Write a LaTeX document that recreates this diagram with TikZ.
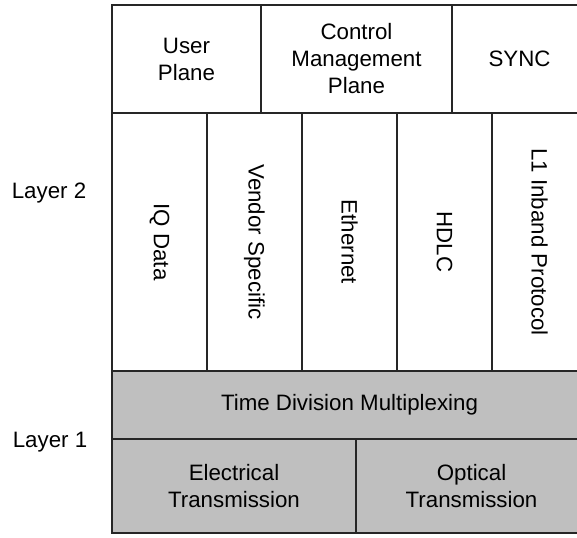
\documentclass[tikz,border=0pt]{standalone}
\usepackage{fontspec}
\setmainfont{Liberation Sans}
\usetikzlibrary{positioning}

\begin{document}
\begin{tikzpicture}[x=0.5pt,y=-0.5pt,node distance=0pt,font=\fontsize{11.15}{13.5}\selectfont,
    cell/.style={draw=black!85,line width=0.65pt,rectangle,outer sep=0pt,inner sep=0pt,align=center},
    plane/.style={cell,minimum height=54pt},
    col/.style={cell,minimum width=47.5pt,minimum height=129pt},
    phy/.style={cell,fill=gray!50}]
    \useasboundingbox (0,0) rectangle (577,537);
    \clip (0,0) rectangle (577,537);
    % planes
    \node[plane,minimum width=74.5pt,anchor=north west] (user) at (112,5) {User\\Plane};
    \node[plane,minimum width=95.5pt] (ctrl) [right=of user] {Control\\Management\\Plane};
    \node[plane,minimum width=67.5pt] (sync) [right=of ctrl] {SYNC};
    % layer 2 columns
    \node[col,anchor=north west] (iq) at (user.south west) {\rotatebox{-90}{IQ Data}};
    \node[col] (vendor) [right=of iq] {\rotatebox{-90}{Vendor Specific}};
    \node[col] (eth) [right=of vendor] {\rotatebox{-90}{Ethernet}};
    \node[col] (hdlc) [right=of eth] {\rotatebox{-90}{HDLC}};
    \node[col] (inband) [right=of hdlc] {\rotatebox{-90}{L1 Inband Protocol}};
    % layer 1
    \node[phy,minimum width=237.5pt,minimum height=34pt,anchor=north west] (tdm) at (iq.south west) {Time Division Multiplexing};
    \node[phy,minimum width=122pt,minimum height=47pt,anchor=north west] (elec) at (tdm.south west) {Electrical\\Transmission};
    \node[phy,minimum width=115.5pt,minimum height=47pt] (opt) [right=of elec] {Optical\\Transmission};
    % layer names
    \node (layer2) at (49,193) {Layer 2};
    \node (layer1) at (50,442) {Layer 1};
\end{tikzpicture}
\end{document}
